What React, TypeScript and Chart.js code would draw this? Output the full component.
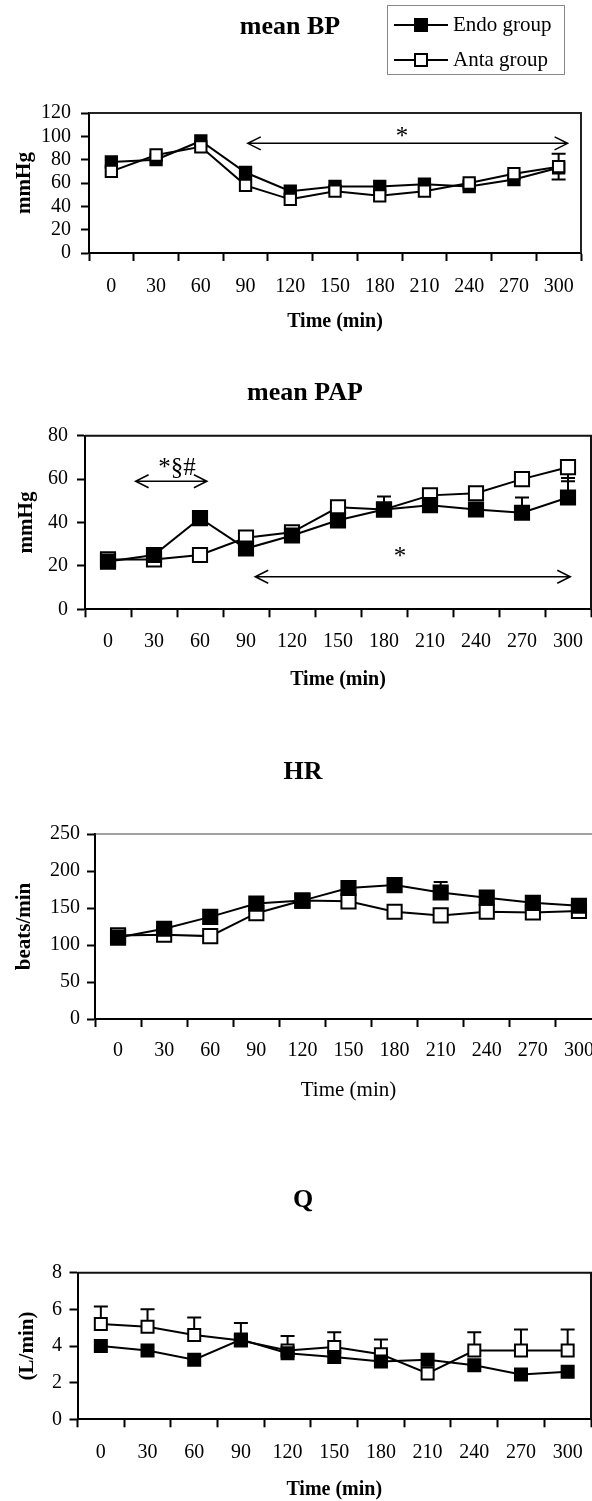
import React, { useEffect, useRef } from 'react';
import { Chart, registerables } from 'chart.js';

Chart.register(...registerables);

const SERIF = '"Liberation Serif", "Times New Roman", Times, serif';

// ---------------- data ----------------
const timeLabels = ['0', '30', '60', '90', '120', '150', '180', '210', '240', '270', '300'];
const seriesNames = ['Endo group', 'Anta group'];

// mean BP (mmHg)
const bpEndo = [78, 80, 96, 69, 53, 57, 57, 59, 57, 63, 73];
const bpAnta = [70, 84, 91, 58, 46, 53, 49, 53, 60, 68, 74];
const bpAntaErrUp = [null, null, null, null, null, null, null, null, null, null, 11];
const bpAntaErrDown = [null, null, null, null, null, null, null, null, null, null, 11];
const bpTicks = { min: 0, max: 120, step: 20 };
const bpSignificance = [{ from: 3.05, to: 10.2, value: 94, text: '*', textAt: 6.5, textValue: 103 }];

// mean PAP (mmHg)
const papEndo = [22, 25, 42, 28, 34, 41, 46, 48, 46, 44.5, 51.5];
const papAnta = [23, 23, 25, 33, 35.5, 47, 46, 52.5, 53.5, 60, 65.5];
const papEndoErrUp = [null, null, null, null, null, null, 6, null, null, 7, 9];
const papAntaErrDown = [null, null, null, null, null, null, null, null, null, null, 6.5];
const papTicks = { min: 0, max: 80, step: 20 };
const papSignificance = [
  { from: 0.6, to: 2.15, value: 59, text: '*§#', textAt: 1.5, textValue: 67 },
  { from: 3.2, to: 10.05, value: 15, text: '*', textAt: 6.35, textValue: 26 },
];

// HR (beats/min)
const hrEndo = [110, 122, 138, 156, 160, 177, 181, 171, 164, 157, 153];
const hrAnta = [113, 114, 112, 143, 160, 159, 145, 140, 145, 144, 146];
const hrEndoErrUp = [null, null, null, null, null, null, null, 14, null, null, null];
const hrTicks = { min: 0, max: 250, step: 50 };

// Q (L/min)
const qEndo = [4.0, 3.75, 3.25, 4.35, 3.6, 3.4, 3.15, 3.25, 2.95, 2.45, 2.6];
const qAnta = [5.2, 5.05, 4.6, 4.3, 3.75, 3.95, 3.55, 2.5, 3.75, 3.75, 3.75];
const qAntaErrUp = [0.95, 0.95, 0.95, 0.95, 0.8, 0.8, 0.8, null, 1.0, 1.15, 1.15];
const qTicks = { min: 0, max: 8, step: 2 };

// ---------------- layout ----------------
const CANVAS_W = 620;

type Sig = { from: number; to: number; value: number; text: string; textAt: number; textValue: number };
type PanelCfg = {
  id: string;
  canvasTop: number;
  canvasHeight: number;
  area: { left: number; top: number; right: number; bottom: number };
  titleX: number;
  titleY: number;
  xTitleY: number;
  xTitleBold: boolean;
  xTitleSize: number;
  yTitleX: number;
  yTickPad: number;
  xTickPad: number;
  pointRadius: number;
  frameWidth: number;
  frameColor: string;
  title: string;
  yTitle: string;
  ticks: { min: number; max: number; step: number };
  endo: number[];
  anta: number[];
  endoErrUp?: (number | null)[];
  endoErrDown?: (number | null)[];
  antaErrUp?: (number | null)[];
  antaErrDown?: (number | null)[];
  antaOnTop: boolean;
  sig: Sig[];
  legend: boolean;
};

// all pixel positions below are in page coordinates
const panels: PanelCfg[] = [
  {
    id: 'bp', canvasTop: 0, canvasHeight: 340,
    area: { left: 89, top: 113, right: 581, bottom: 253 },
    titleX: 290, titleY: 27, xTitleY: 322, xTitleBold: true, xTitleSize: 20, yTitleX: 25,
    yTickPad: 10, xTickPad: 14, pointRadius: 8, frameWidth: 2, frameColor: '#222',
    title: 'mean BP', yTitle: 'mmHg', ticks: bpTicks,
    endo: bpEndo, anta: bpAnta, antaErrUp: bpAntaErrUp, antaErrDown: bpAntaErrDown,
    antaOnTop: true, sig: bpSignificance, legend: true,
  },
  {
    id: 'pap', canvasTop: 340, canvasHeight: 400,
    area: { left: 85, top: 435.7, right: 591, bottom: 609.3 },
    titleX: 305, titleY: 393, xTitleY: 680, xTitleBold: true, xTitleSize: 20, yTitleX: 27,
    yTickPad: 9, xTickPad: 12.7, pointRadius: 10, frameWidth: 2, frameColor: '#111',
    title: 'mean PAP', yTitle: 'mmHg', ticks: papTicks,
    endo: papEndo, anta: papAnta, endoErrUp: papEndoErrUp, antaErrDown: papAntaErrDown,
    antaOnTop: false, sig: papSignificance, legend: false,
  },
  {
    id: 'hr', canvasTop: 740, canvasHeight: 380,
    area: { left: 95, top: 834, right: 602, bottom: 1019 },
    titleX: 303, titleY: 772, xTitleY: 1090, xTitleBold: false, xTitleSize: 21, yTitleX: 25,
    yTickPad: 7, xTickPad: 11.7, pointRadius: 10, frameWidth: 1.2, frameColor: '#444',
    title: 'HR', yTitle: 'beats/min', ticks: hrTicks,
    endo: hrEndo, anta: hrAnta, endoErrUp: hrEndoErrUp,
    antaOnTop: false, sig: [], legend: false,
  },
  {
    id: 'q', canvasTop: 1120, canvasHeight: 400,
    area: { left: 77.5, top: 1272.7, right: 591, bottom: 1419.3 },
    titleX: 303, titleY: 1200, xTitleY: 1490, xTitleBold: true, xTitleSize: 20, yTitleX: 28,
    yTickPad: 7.5, xTickPad: 13.4, pointRadius: 8.5, frameWidth: 2, frameColor: '#111',
    title: 'Q', yTitle: '(L/min)', ticks: qTicks,
    endo: qEndo, anta: qAnta, antaErrUp: qAntaErrUp,
    antaOnTop: false, sig: [], legend: false,
  },
];

// ---------------- plugins ----------------
const framePlugin = (cfg: PanelCfg) => ({
  id: 'frame',
  afterDraw(chart: any) {
    const { ctx, chartArea } = chart;
    ctx.save();
    ctx.strokeStyle = cfg.frameColor;
    ctx.lineWidth = cfg.frameWidth;
    ctx.beginPath();
    ctx.moveTo(chartArea.left, chartArea.top);
    ctx.lineTo(chartArea.right, chartArea.top);
    ctx.lineTo(chartArea.right, chartArea.bottom);
    ctx.stroke();
    ctx.restore();
  },
});

const textPlugin = (cfg: PanelCfg) => ({
  id: 'panelTexts',
  afterDraw(chart: any) {
    const { ctx, chartArea } = chart;
    const off = cfg.canvasTop;
    ctx.save();
    ctx.fillStyle = '#000';
    ctx.textAlign = 'center';
    ctx.textBaseline = 'middle';
    // panel title
    ctx.font = `bold 26px ${SERIF}`;
    ctx.fillText(cfg.title, cfg.titleX, cfg.titleY - off);
    // x axis title
    ctx.font = `${cfg.xTitleBold ? 'bold ' : ''}${cfg.xTitleSize}px ${SERIF}`;
    ctx.fillText('Time (min)', (chartArea.left + chartArea.right) / 2, cfg.xTitleY - off);
    // y axis title
    ctx.translate(cfg.yTitleX, (chartArea.top + chartArea.bottom) / 2);
    ctx.rotate(-Math.PI / 2);
    ctx.font = `bold 21px ${SERIF}`;
    ctx.fillText(cfg.yTitle, 0, 0);
    ctx.restore();
  },
});

const errorBarPlugin = {
  id: 'errorBars',
  beforeDatasetsDraw(chart: any) {
    const { ctx } = chart;
    const yScale = chart.scales.y;
    chart.data.datasets.forEach((ds: any, i: number) => {
      const meta = chart.getDatasetMeta(i);
      meta.data.forEach((pt: any, j: number) => {
        const v = ds.data[j];
        const draw = (e: number | null | undefined, dir: number) => {
          if (e == null) return;
          const yy = yScale.getPixelForValue(v + dir * e);
          ctx.save();
          ctx.strokeStyle = '#000';
          ctx.lineWidth = 2;
          ctx.beginPath();
          ctx.moveTo(pt.x, pt.y);
          ctx.lineTo(pt.x, yy);
          ctx.moveTo(pt.x - 7, yy);
          ctx.lineTo(pt.x + 7, yy);
          ctx.stroke();
          ctx.restore();
        };
        draw(ds.errUp ? ds.errUp[j] : null, 1);
        draw(ds.errDown ? ds.errDown[j] : null, -1);
      });
    });
  },
};

const significancePlugin = (cfg: PanelCfg) => ({
  id: 'significance',
  afterDatasetsDraw(chart: any) {
    const { ctx } = chart;
    const xs = chart.scales.x;
    const ys = chart.scales.y;
    cfg.sig.forEach((s) => {
      const x1 = xs.getPixelForValue(s.from);
      const x2 = xs.getPixelForValue(s.to);
      const y = ys.getPixelForValue(s.value);
      ctx.save();
      ctx.strokeStyle = '#000';
      ctx.lineWidth = 1.5;
      ctx.beginPath();
      ctx.moveTo(x1, y);
      ctx.lineTo(x2, y);
      ctx.moveTo(x1 + 13, y - 6.5);
      ctx.lineTo(x1, y);
      ctx.lineTo(x1 + 13, y + 6.5);
      ctx.moveTo(x2 - 13, y - 6.5);
      ctx.lineTo(x2, y);
      ctx.lineTo(x2 - 13, y + 6.5);
      ctx.stroke();
      const tx = xs.getPixelForValue(s.textAt);
      const ty = ys.getPixelForValue(s.textValue);
      ctx.fillStyle = '#000';
      ctx.textAlign = 'center';
      ctx.textBaseline = 'alphabetic';
      ctx.font = `25px ${SERIF}`;
      ctx.fillText(s.text, tx, ty + 11);
      ctx.restore();
    });
  },
});

const legendPlugin = {
  id: 'boxLegend',
  afterDraw(chart: any) {
    const { ctx } = chart;
    const box = { x: 387, y: 5, w: 177, h: 69 };
    const rows = [25, 60];
    ctx.save();
    ctx.strokeStyle = '#888';
    ctx.lineWidth = 1;
    ctx.strokeRect(box.x + 0.5, box.y + 0.5, box.w, box.h);
    chart.data.datasets.forEach((ds: any, i: number) => {
      const y = rows[i];
      ctx.strokeStyle = '#000';
      ctx.lineWidth = 2;
      ctx.beginPath();
      ctx.moveTo(394, y);
      ctx.lineTo(448, y);
      ctx.stroke();
      ctx.fillStyle = ds.pointBackgroundColor;
      ctx.fillRect(415, y - 6, 12, 12);
      ctx.strokeRect(415, y - 6, 12, 12);
      ctx.fillStyle = '#000';
      ctx.font = `21px ${SERIF}`;
      ctx.textAlign = 'left';
      ctx.textBaseline = 'middle';
      ctx.fillText(ds.label, 453, y);
    });
    ctx.restore();
  },
};

// ---------------- chart builder ----------------
function buildConfig(cfg: PanelCfg): any {
  const off = cfg.canvasTop;
  const H = cfg.canvasHeight;
  const areaTop = cfg.area.top - off;
  const areaBottom = cfg.area.bottom - off;
  const padR = CANVAS_W - cfg.area.right;
  const tickFont = { family: SERIF, size: 20 };

  const common = {
    borderColor: '#000',
    borderWidth: 2,
    pointStyle: 'rect',
    pointRadius: cfg.pointRadius,
    pointBorderWidth: 2,
    pointBorderColor: '#000',
    tension: 0,
    fill: false,
  };

  return {
    type: 'line',
    data: {
      labels: timeLabels,
      datasets: [
        {
          ...common, label: seriesNames[0], data: cfg.endo,
          pointBackgroundColor: '#000', backgroundColor: '#000',
          order: cfg.antaOnTop ? 1 : 0, errUp: cfg.endoErrUp, errDown: cfg.endoErrDown,
        },
        {
          ...common, label: seriesNames[1], data: cfg.anta,
          pointBackgroundColor: '#fff', backgroundColor: '#fff',
          order: cfg.antaOnTop ? 0 : 1, errUp: cfg.antaErrUp, errDown: cfg.antaErrDown,
        },
      ],
    },
    options: {
      responsive: false,
      animation: false,
      events: [],
      layout: { padding: { left: 0, right: padR, top: areaTop, bottom: 0 } },
      plugins: {
        legend: { display: false },
        tooltip: { enabled: false },
        title: { display: false },
      },
      scales: {
        x: {
          type: 'category',
          offset: true,
          grid: { offset: true, drawOnChartArea: false, drawTicks: true, tickLength: 8, tickWidth: 2, tickColor: '#000' },
          border: { display: true, color: '#000', width: 2 },
          ticks: { font: tickFont, color: '#000', padding: cfg.xTickPad, maxRotation: 0, autoSkip: false },
          title: { display: false },
          afterFit: (s: any) => { s.height = H - areaBottom; },
        },
        y: {
          type: 'linear',
          min: cfg.ticks.min,
          max: cfg.ticks.max,
          grid: { drawOnChartArea: false, drawTicks: true, tickLength: 8, tickWidth: 2, tickColor: '#000' },
          border: { display: true, color: '#000', width: 2 },
          ticks: { stepSize: cfg.ticks.step, autoSkip: false, font: tickFont, color: '#000', padding: cfg.yTickPad },
          title: { display: false },
          afterFit: (s: any) => { s.width = cfg.area.left; },
        },
      },
    },
    plugins: [
      framePlugin(cfg),
      errorBarPlugin,
      significancePlugin(cfg),
      textPlugin(cfg),
      ...(cfg.legend ? [legendPlugin] : []),
    ],
  };
}

function PanelChart({ cfg }: { cfg: PanelCfg }) {
  const ref = useRef<HTMLCanvasElement>(null);
  useEffect(() => {
    if (!ref.current) return;
    const chart = new Chart(ref.current, buildConfig(cfg));
    return () => chart.destroy();
  }, [cfg]);
  return (
    <canvas
      ref={ref}
      width={CANVAS_W}
      height={cfg.canvasHeight}
      style={{ position: 'absolute', left: 0, top: cfg.canvasTop, width: CANVAS_W, height: cfg.canvasHeight }}
    />
  );
}

export default function App() {
  useEffect(() => {
    document.body.style.margin = '0';
    document.body.style.overflow = 'hidden';
    document.documentElement.style.overflow = 'hidden';
  }, []);
  return (
    <div style={{ position: 'relative', width: 592, height: 1501, overflow: 'hidden', background: '#fff' }}>
      {panels.map((p) => (
        <PanelChart key={p.id} cfg={p} />
      ))}
    </div>
  );
}
